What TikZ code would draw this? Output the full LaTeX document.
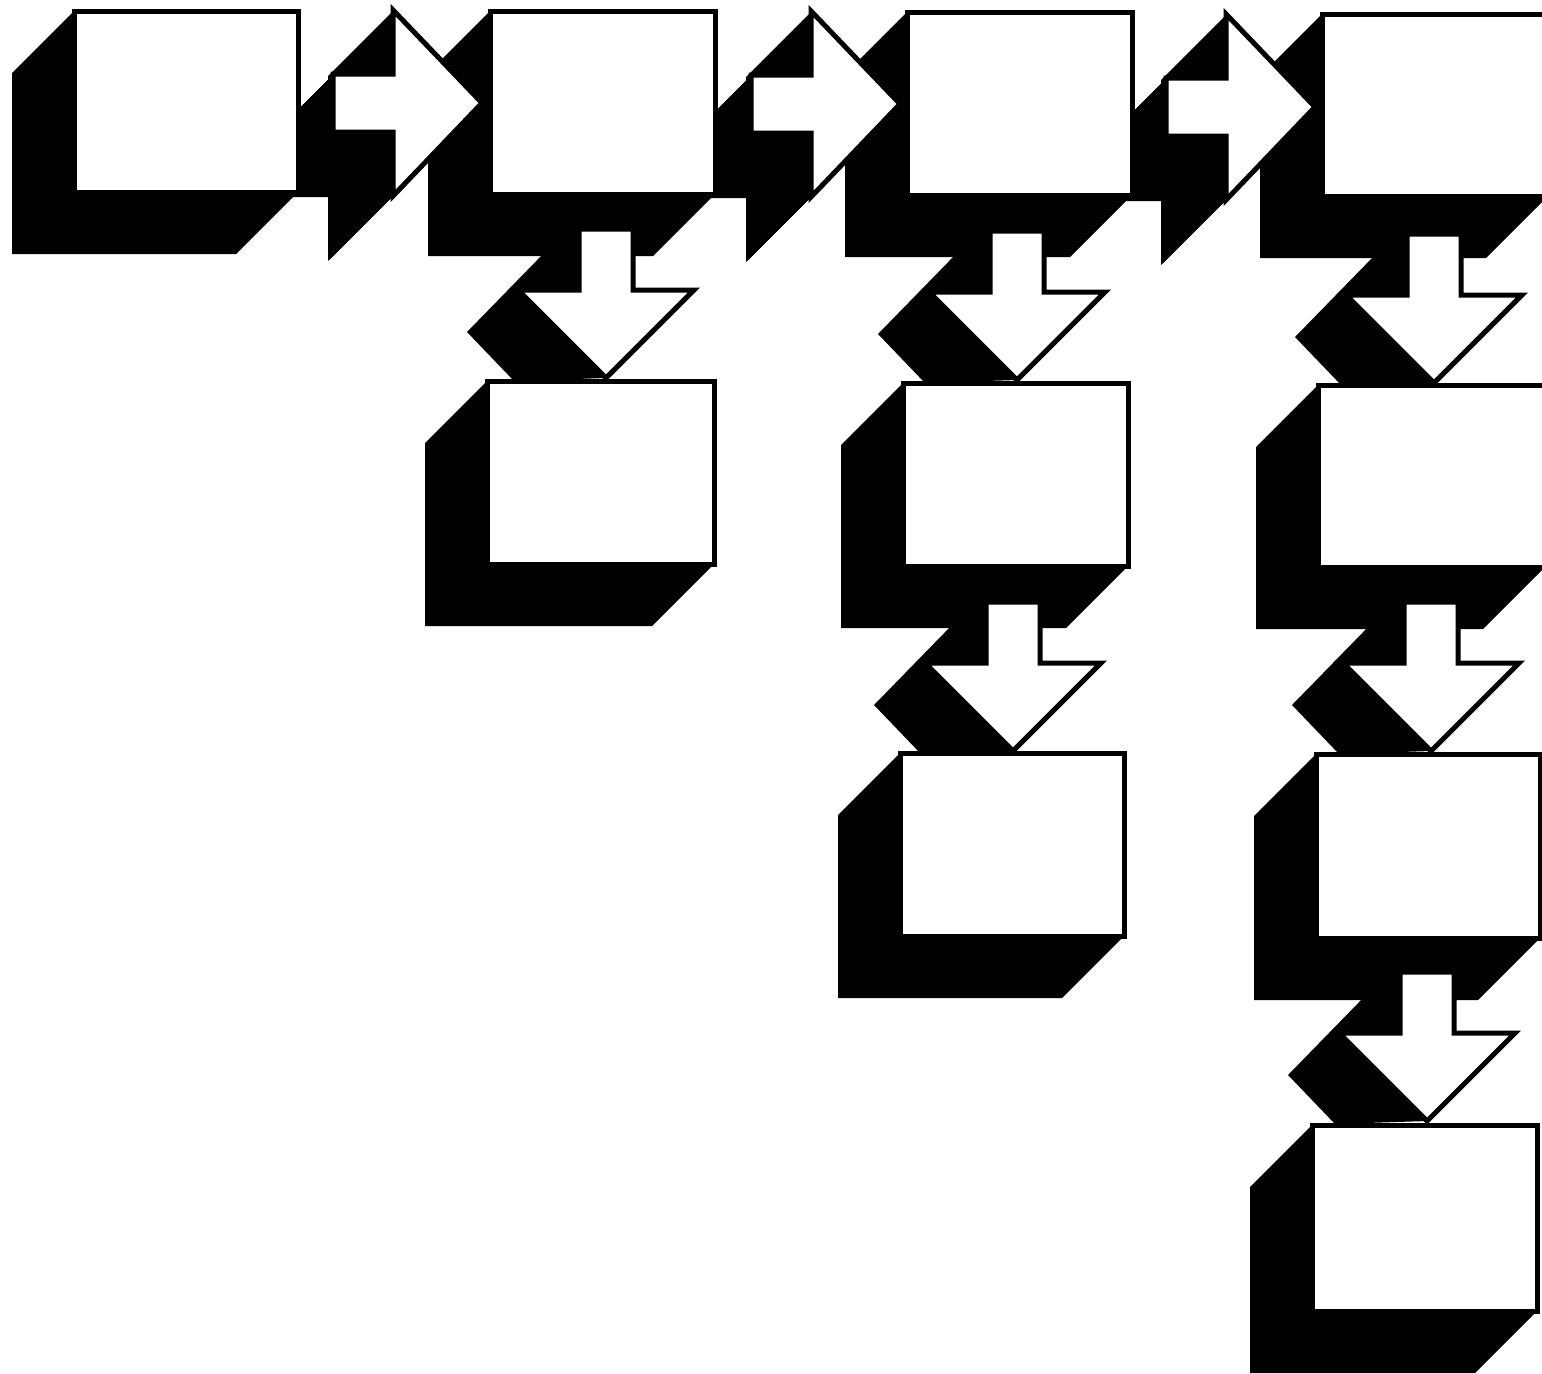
\documentclass[tikz,border=0pt]{standalone}
\tikzset{
  face/.style={fill=white, draw=black, line width=2.5pt, line join=miter, miter limit=10},
  shade/.style={fill=black},
}
% box: x1 y1 x2 y2 (pixel coords, y downward)
\newcommand\BoxShade[4]{\fill[shade] (#1,#2) -- (#3,#2) -- (#3,#4) -- ({#3-62},{#4+62}) -- ({#1-62},{#4+62}) -- ({#1-62},{#2+62}) -- cycle;}
\newcommand\BoxFace[5]{\node[face, anchor=north west, inner sep=0pt, outer sep=0pt,
  minimum width={(#3-#1)*0.5pt}, minimum height={(#4-#2)*0.5pt}] (#5) at (#1,#2) {};}
% right block arrow: base x of head, centre y, style
\newcommand\RArrow[3]{\path[#3] ({#1-60},{#2-29}) -- (#1,{#2-29}) -- (#1,{#2-93}) -- ({#1+89},#2) -- (#1,{#2+93}) -- (#1,{#2+29}) -- ({#1-60},{#2+29}) -- cycle;}
\newcommand\RShade[2]{\foreach \t in {0,...,65}{\RArrow{#1}{#2}{shade, shift={(-\t,\t)}}}}
% down block arrow: centre x, head base y, style
\newcommand\DArrow[3]{\path[#3] ({#1-27},{#2-61}) -- ({#1+27},{#2-61}) -- ({#1+27},#2) -- ({#1+88},#2) -- (#1,{#2+88}) -- ({#1-88},#2) -- ({#1-27},#2) -- cycle;}
\newcommand\DShade[2]{\fill[shade] ({#1-60},{#2-39}) -- ({#1-27},{#2-39}) -- ({#1-27},#2) -- (#1,{#2+88}) -- ({#1-92},{#2+91}) -- ({#1-139},{#2+42}) -- cycle;}
\begin{document}
\begin{tikzpicture}[x=0.5pt, y=-0.5pt]
\useasboundingbox (0,0) rectangle (1542,1373);
\clip (0,0) rectangle (1542,1373);
\fill[white] (0,0) rectangle (1542,1373);
% ---- shadows ----
\BoxShade{74}{11}{298}{192}
\BoxShade{490}{11}{715}{194}
\BoxShade{907}{12}{1132}{195}
\BoxShade{1322}{14}{1548}{196}
\BoxShade{487}{381}{714}{564}
\BoxShade{903}{383}{1128}{566}
\BoxShade{1318}{385}{1545}{567}
\BoxShade{900}{753}{1124}{936}
\BoxShade{1316}{754}{1540}{938}
\BoxShade{1312}{1125}{1537}{1311}
\RShade{393}{103}
\RShade{811}{104}
\RShade{1226}{107}
\DShade{606}{290}
\DShade{1017}{292}
\DShade{1013}{663}
\DShade{1434}{295}
\DShade{1431}{663}
\DShade{1427}{1033}
% ---- faces ----
\BoxFace{74}{11}{298}{192}{b11}
\BoxFace{490}{11}{715}{194}{b12}
\BoxFace{907}{12}{1132}{195}{b13}
\BoxFace{1322}{14}{1548}{196}{b14}
\BoxFace{487}{381}{714}{564}{b22}
\BoxFace{903}{383}{1128}{566}{b23}
\BoxFace{1318}{385}{1545}{567}{b24}
\BoxFace{900}{753}{1124}{936}{b33}
\BoxFace{1316}{754}{1540}{938}{b34}
\BoxFace{1312}{1125}{1537}{1311}{b44}
\RArrow{393}{103}{face}
\RArrow{811}{104}{face}
\RArrow{1226}{107}{face}
\DArrow{606}{290}{face}
\DArrow{1017}{292}{face}
\DArrow{1013}{663}{face}
\DArrow{1434}{295}{face}
\DArrow{1431}{663}{face}
\DArrow{1427}{1033}{face}
\end{tikzpicture}
\end{document}
